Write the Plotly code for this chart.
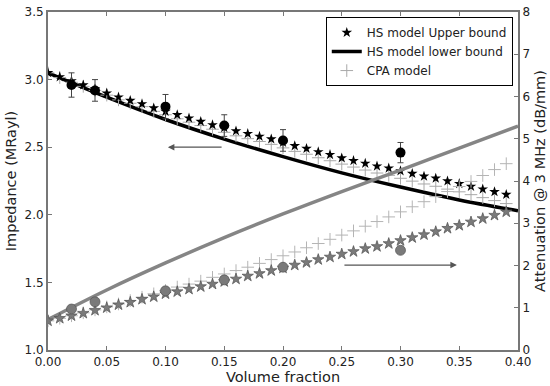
import plotly.graph_objects as go

# ---- data ----
vf_model = [round(0.01 * i, 2) for i in range(40)]  # 0.00 .. 0.39

imp_hs_upper = [3.05, 3.02, 2.99, 2.96, 2.93, 2.90, 2.87, 2.845, 2.82, 2.79,
                2.765, 2.74, 2.715, 2.69, 2.665, 2.645, 2.62, 2.60, 2.58, 2.56,
                2.535, 2.51, 2.49, 2.465, 2.445, 2.42, 2.40, 2.38, 2.36, 2.345,
                2.325, 2.305, 2.285, 2.27, 2.25, 2.23, 2.21, 2.19, 2.17, 2.15]

imp_cpa = [3.05, 3.015, 2.98, 2.95, 2.92, 2.885, 2.85, 2.825, 2.80, 2.765,
           2.74, 2.71, 2.685, 2.66, 2.633, 2.61, 2.584, 2.563, 2.542, 2.521,
           2.495, 2.469, 2.448, 2.422, 2.40, 2.375, 2.353, 2.331, 2.309, 2.292,
           2.27, 2.249, 2.228, 2.211, 2.19, 2.17, 2.149, 2.127, 2.105, 2.083]

vf_lower = [0.00, 0.05, 0.10, 0.15, 0.20, 0.25, 0.30, 0.35, 0.40]
imp_hs_lower = [3.05, 2.87, 2.705, 2.56, 2.43, 2.31, 2.205, 2.11, 2.03]

att_hs_upper = [0.69, 0.75, 0.81, 0.87, 0.94, 1.00, 1.07, 1.13, 1.20, 1.26,
                1.33, 1.38, 1.44, 1.50, 1.56, 1.62, 1.68, 1.75, 1.81, 1.88,
                1.94, 2.01, 2.07, 2.14, 2.20, 2.27, 2.33, 2.40, 2.45, 2.52,
                2.59, 2.66, 2.73, 2.80, 2.88, 2.95, 3.03, 3.11, 3.19, 3.27]

att_cpa = [0.69, 0.75, 0.81, 0.88, 0.95, 1.02, 1.09, 1.17, 1.25, 1.33,
           1.41, 1.49, 1.56, 1.63, 1.72, 1.80, 1.88, 1.96, 2.05, 2.14,
           2.23, 2.32, 2.42, 2.52, 2.62, 2.72, 2.82, 2.93, 3.04, 3.15,
           3.27, 3.39, 3.51, 3.63, 3.75, 3.87, 3.99, 4.13, 4.27, 4.41]

att_hs_lower = [0.72, 1.42, 2.06, 2.66, 3.22, 3.75, 4.26, 4.78, 5.30]

vf_meas = [0.02, 0.04, 0.10, 0.15, 0.20, 0.30]
imp_meas = [2.96, 2.92, 2.80, 2.66, 2.55, 2.46]
imp_err = [0.09, 0.08, 0.09, 0.08, 0.08, 0.075]
att_meas = [0.97, 1.14, 1.40, 1.66, 1.96, 2.36]

x_ticks = [0.00, 0.05, 0.10, 0.15, 0.20, 0.25, 0.30, 0.35, 0.40]
y_ticks = [1.0, 1.5, 2.0, 2.5, 3.0, 3.5]
y2_ticks = [0, 1, 2, 3, 4, 5, 6, 7, 8]

# arrows: (head_x, tail_x, y)
arrow_imp = (0.102, 0.149, 2.50)
arrow_att = (0.348, 0.251, 2.01)

FONT = "DejaVu Sans"
fig = go.Figure()

# impedance (left axis)
fig.add_trace(go.Scatter(x=vf_lower, y=imp_hs_lower, mode="lines", line=dict(color="black", width=3.5, shape="spline"),
                         name="HS model lower bound", legendrank=2))
fig.add_trace(go.Scatter(x=vf_model, y=imp_cpa, mode="markers",
                         marker=dict(symbol="cross-thin", size=9, line=dict(color="#a8a8a8", width=1)),
                         name="CPA model", legendrank=3))
fig.add_trace(go.Scatter(x=vf_model, y=imp_hs_upper, mode="markers",
                         marker=dict(symbol="star", size=8, color="black", line=dict(width=0)),
                         name="HS model Upper bound", legendrank=1))
fig.add_trace(go.Scatter(x=vf_meas, y=imp_meas, mode="markers",
                         marker=dict(symbol="circle", size=10, color="black"),
                         error_y=dict(type="data", array=imp_err, color="#444", thickness=1, width=3),
                         showlegend=False))

# attenuation (right axis)
fig.add_trace(go.Scatter(x=vf_lower, y=att_hs_lower, mode="lines", yaxis="y2",
                         line=dict(color="#858585", width=3.5, shape="spline"), showlegend=False))
fig.add_trace(go.Scatter(x=vf_model, y=att_cpa, mode="markers", yaxis="y2",
                         marker=dict(symbol="cross-thin", size=9, line=dict(color="#b4b4b4", width=1)),
                         showlegend=False))
fig.add_trace(go.Scatter(x=vf_model, y=att_hs_upper, mode="markers", yaxis="y2",
                         marker=dict(symbol="star", size=8.5, color="#7a7a7a", line=dict(color="#505050", width=0.7)),
                         showlegend=False))
fig.add_trace(go.Scatter(x=vf_meas, y=att_meas, mode="markers", yaxis="y2",
                         marker=dict(symbol="circle", size=10, color="#7a7a7a", line=dict(color="#555", width=0.7)),
                         showlegend=False))

fig.add_annotation(x=arrow_imp[0], y=arrow_imp[2], ax=arrow_imp[1], ay=arrow_imp[2],
                   xref="x", yref="y", axref="x", ayref="y", text="", showarrow=True,
                   arrowhead=2, arrowsize=1, arrowwidth=1.3, arrowcolor="#555")
fig.add_annotation(x=arrow_att[0], y=arrow_att[2], ax=arrow_att[1], ay=arrow_att[2],
                   xref="x", yref="y2", axref="x", ayref="y2", text="", showarrow=True,
                   arrowhead=2, arrowsize=1, arrowwidth=1.3, arrowcolor="#555")

axis_common = dict(showgrid=False, zeroline=False, ticks="inside", ticklen=4, tickwidth=1,
                   tickcolor="#777", showline=True, linecolor="#777", linewidth=2, automargin=False,
                   ticklabeloverflow="allow",
                   tickfont=dict(family=FONT, size=12, color="#222"))

fig.update_layout(
    width=550, height=386,
    margin=dict(l=48, r=32, t=12, b=36),
    paper_bgcolor="white", plot_bgcolor="white",
    font=dict(family=FONT, color="#222"),
    xaxis=dict(range=[0, 0.4], tickvals=x_ticks, tickformat=".2f", mirror="ticks",
               title=dict(text="Volume fraction", font=dict(family=FONT, size=14.5), standoff=2),
               **axis_common),
    yaxis=dict(range=[1.0, 3.5], tickvals=y_ticks, tickformat=".1f",
               title=dict(text="Impedance (MRayl)", font=dict(family=FONT, size=14.5), standoff=4),
               **axis_common),
    yaxis2=dict(range=[0, 8], tickvals=y2_ticks, overlaying="y", side="right",
                title=dict(text="Attenuation @ 3 MHz (dB/mm)", font=dict(family=FONT, size=14.5), standoff=6),
                **axis_common),
    legend=dict(x=0.591, y=0.985, xanchor="left", yanchor="top", bgcolor="white",
                bordercolor="black", borderwidth=1, font=dict(family=FONT, size=12, color="#222"),
                tracegroupgap=0),
    showlegend=True,
)

# remove the browser's default 8px body margin so the figure fills the window exactly
fig.write_html("out.html", config={"displayModeBar": False},
               post_script="document.body.style.margin='0';document.body.style.overflow='hidden';")
